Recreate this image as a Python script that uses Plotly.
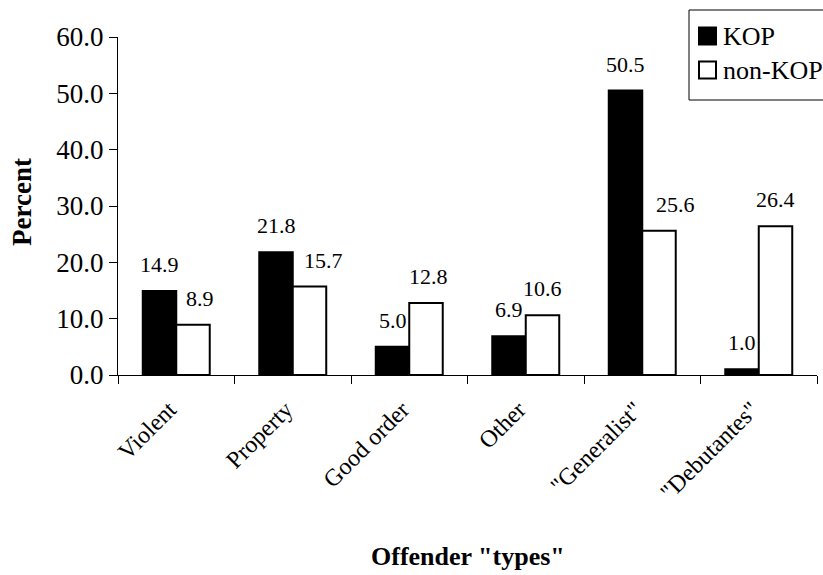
import plotly.graph_objects as go

# Offender types and the share (%) of each group falling into them
categories = ["Violent", "Property", "Good order", "Other", "\"Generalist\"", "\"Debutantes\""]
kop = [14.9, 21.8, 5.0, 6.9, 50.5, 1.0]
non_kop = [8.9, 15.7, 12.8, 10.6, 25.6, 26.4]
y_ticks = [0, 10, 20, 30, 40, 50, 60]
series_names = ["KOP", "non-KOP"]
series_fill = ["black", "white"]

FONT = "Liberation Serif"
BARGAP = 0.425
# sideways nudges (px) of the non-KOP value labels, clear of the taller bars
NON_KOP_LABEL_DX = [7, 14, 2, 0, 16, 0]

# plot area in pixels (used for placing the legend box and titles)
L, R, T, B = 118, 817, 37, 375


def px_x(p):
    return (p - L) / (R - L)


def px_y(p):
    return (B - p) / (B - T)


fig = go.Figure()
for name, vals, fill in zip(series_names, [kop, non_kop], series_fill):
    fig.add_trace(go.Bar(
        name=name, x=categories, y=vals,
        marker=dict(color=fill, line=dict(color="black", width=2)),
    ))

# value labels above each bar
half = (1 - BARGAP) / 4
annotations = []
for i, (a, b) in enumerate(zip(kop, non_kop)):
    for val, dx, shift in ((a, -half, 0), (b, half, NON_KOP_LABEL_DX[i])):
        annotations.append(dict(
            x=i + dx, y=val, xref="x", yref="y", text=f"{val:.1f}",
            showarrow=False, yanchor="bottom", yshift=12, xshift=shift,
            font=dict(family=FONT, size=22, color="black"),
        ))

# axis titles
annotations.append(dict(
    x=0.5, y=px_y(556), xref="paper", yref="paper", text="<b>Offender \"types\"</b>",
    showarrow=False, xanchor="center", yanchor="middle",
    font=dict(family=FONT, size=26, color="black"),
))
annotations.append(dict(
    x=px_x(22), y=px_y(202), xref="paper", yref="paper", text="<b>Percent</b>",
    showarrow=False, xanchor="center", yanchor="middle", textangle=-90,
    font=dict(family=FONT, size=27, color="black"),
))

# legend: framed box with square swatches
shapes = [dict(
    type="rect", xref="paper", yref="paper",
    x0=px_x(689), x1=px_x(840), y0=px_y(100), y1=px_y(10),
    line=dict(color="black", width=1), fillcolor="white", layer="above",
)]
for k, (name, fill) in enumerate(zip(series_names, series_fill)):
    cy = 36 + k * 34
    shapes.append(dict(
        type="rect", xref="paper", yref="paper",
        x0=px_x(699), x1=px_x(716), y0=px_y(cy + 8.5), y1=px_y(cy - 8.5),
        line=dict(color="black", width=2), fillcolor=fill, layer="above",
    ))
    annotations.append(dict(
        x=px_x(721), y=px_y(cy), xref="paper", yref="paper", text=name,
        showarrow=False, xanchor="left", yanchor="middle",
        font=dict(family=FONT, size=26, color="black"),
    ))

fig.update_layout(
    width=823, height=575,
    margin=dict(l=L, r=823 - R, t=T, b=575 - B, autoexpand=False),
    paper_bgcolor="white", plot_bgcolor="white",
    barmode="group", bargap=BARGAP, bargroupgap=0,
    font=dict(family=FONT, color="black"),
    showlegend=False,
    annotations=annotations,
    shapes=shapes,
    xaxis=dict(
        type="category", range=[-0.5, 5.5],
        showline=True, linecolor="black", linewidth=1,
        ticks="outside", tickson="boundaries", ticklen=8, tickcolor="black",
        tickangle=-45, tickfont=dict(family=FONT, size=24, color="black"),
        ticklabelstandoff=10, ticklabelshift=-7,
        showgrid=False, zeroline=False,
    ),
    yaxis=dict(
        range=[0, 60], tickvals=y_ticks, tickformat=".1f",
        showline=True, linecolor="black", linewidth=1,
        ticks="outside", ticklen=8, tickcolor="black",
        tickfont=dict(family=FONT, size=27, color="black"),
        showgrid=False, zeroline=False,
    ),
)

fig.write_html("out.html")
